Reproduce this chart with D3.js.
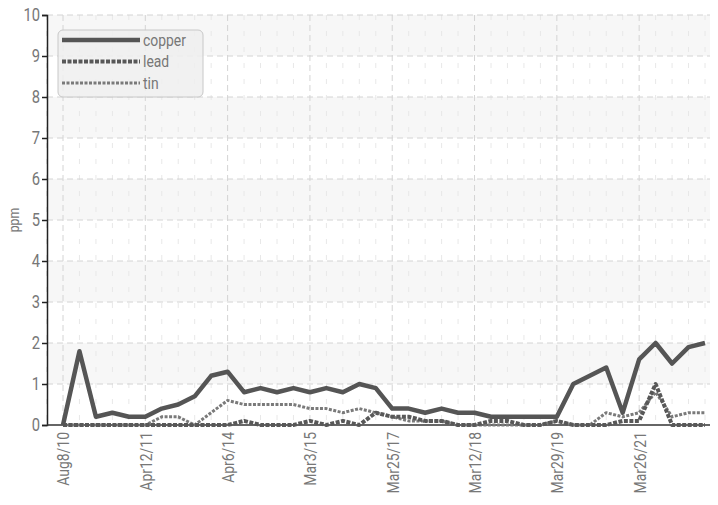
<!DOCTYPE html>
<html>
<head>
<meta charset="utf-8">
<script src="https://cdn.jsdelivr.net/npm/d3@7"></script>
<style>
  body { margin: 0; background: #fff; }
  text { font-family: "Roboto", sans-serif; fill: #777; }
</style>
</head>
<body>
<script>
var tickLabels = ["Aug8/10", "Apr12/11", "Apr6/14", "Mar3/15", "Mar25/17", "Mar12/18", "Mar29/19", "Mar26/21"];
var tickEvery = 5;

var copper = [0, 1.8, 0.2, 0.3, 0.2, 0.2, 0.4, 0.5, 0.7, 1.2,
              1.3, 0.8, 0.9, 0.8, 0.9, 0.8, 0.9, 0.8, 1.0, 0.9,
              0.4, 0.4, 0.3, 0.4, 0.3, 0.3, 0.2, 0.2, 0.2, 0.2,
              0.2, 1.0, 1.2, 1.4, 0.3, 1.6, 2.0, 1.5, 1.9, 2.0];
var lead   = [0, 0, 0, 0, 0, 0, 0, 0, 0, 0,
              0, 0.1, 0, 0, 0, 0.1, 0, 0.1, 0, 0.3,
              0.2, 0.2, 0.1, 0.1, 0, 0, 0.1, 0.1, 0, 0,
              0.1, 0, 0, 0, 0.1, 0.1, 1.0, 0, 0, 0];
var tin    = [0, 0, 0, 0, 0, 0, 0.2, 0.2, 0, 0.3,
              0.6, 0.5, 0.5, 0.5, 0.5, 0.4, 0.4, 0.3, 0.4, 0.3,
              0.2, 0.1, 0.1, 0.1, 0, 0, 0, 0, 0, 0,
              0.1, 0, 0, 0.3, 0.2, 0.3, 0.8, 0.2, 0.3, 0.3];

var series = [
  {name: "copper", values: copper, color: "#555", width: 4.5, dash: null},
  {name: "lead", values: lead, color: "#585858", width: 4, dash: "4,1.5"},
  {name: "tin", values: tin, color: "#7a7a7a", width: 3, dash: "3,1.5"}
];

var W = 718, H = 505;
var pLeft = 47, pRight = 710, pTop = 15, pBottom = 425;
var narrow = 0.82; // fake condensed font

var svg = d3.select("body").append("svg")
  .attr("width", W).attr("height", H);

var x = d3.scaleLinear().domain([0, copper.length - 1]).range([63, 705]);
var y = d3.scaleLinear().domain([0, 10]).range([pBottom, pTop]);

// alternating bands
var bands = d3.range(1, 10, 2);
svg.append("g").selectAll("rect").data(bands).enter().append("rect")
  .attr("x", pLeft).attr("width", pRight - pLeft)
  .attr("y", function(d) { return y(d + 1); })
  .attr("height", function(d) { return y(d) - y(d + 1); })
  .attr("fill", "#f7f7f7");

// minor vertical grid
var minor = d3.range(-1, copper.length).filter(function(i) { return i % tickEvery != 0; });
svg.append("g").selectAll("line").data(minor).enter().append("line")
  .attr("x1", function(d) { return x(d); }).attr("x2", function(d) { return x(d); })
  .attr("y1", pTop).attr("y2", pBottom)
  .attr("stroke", "#e8e8e8").attr("stroke-dasharray", "5,11");

// major vertical grid
svg.append("g").selectAll("line").data(tickLabels).enter().append("line")
  .attr("x1", function(d, i) { return x(i * tickEvery); })
  .attr("x2", function(d, i) { return x(i * tickEvery); })
  .attr("y1", pTop).attr("y2", pBottom)
  .attr("stroke", "#d4d4d4").attr("stroke-dasharray", "6,4");

// horizontal grid
svg.append("g").selectAll("line").data(d3.range(1, 11)).enter().append("line")
  .attr("x1", pLeft).attr("x2", pRight)
  .attr("y1", function(d) { return y(d); }).attr("y2", function(d) { return y(d); })
  .attr("stroke", "#d4d4d4").attr("stroke-dasharray", "6,4");

// y axis
var yAxis = svg.append("g")
  .attr("transform", "translate(" + pLeft + ",0)")
  .call(d3.axisLeft(y).ticks(10).tickSize(5).tickPadding(3));
yAxis.select(".domain").attr("stroke", "#222").attr("stroke-width", 1.5);
yAxis.selectAll(".tick line").attr("stroke", "#222").attr("stroke-width", 1.5);
yAxis.selectAll("text")
  .style("font-size", "18px").attr("fill", "#777")
  .attr("x", 0)
  .attr("transform", "translate(-7,0) scale(" + narrow + ",1)");

// x axis
var xAxis = svg.append("g")
  .attr("transform", "translate(0," + pBottom + ")")
  .call(d3.axisBottom(x)
    .tickValues(d3.range(0, tickLabels.length).map(function(i) { return i * tickEvery; }))
    .tickFormat(function(d) { return tickLabels[d / tickEvery]; })
    .tickSize(0).tickSizeOuter(0));
xAxis.select(".domain").attr("d", "M" + pLeft + ",0H" + pRight).attr("stroke", "#333").attr("stroke-width", 1.5);
xAxis.selectAll("text")
  .style("font-size", "17px")
  .style("text-anchor", "end")
  .attr("fill", "#777")
  .attr("transform", "translate(0,7) rotate(-90) scale(" + narrow + ",1)")
  .attr("x", 0).attr("y", 0).attr("dy", "0.35em");

// ppm label
svg.append("text")
  .attr("transform", "translate(19," + ((pTop + pBottom) / 2) + ") rotate(-90) scale(" + narrow + ",1)")
  .style("text-anchor", "middle")
  .style("font-size", "15px")
  .text("ppm");

// lines
var line = d3.line()
  .x(function(d, i) { return x(i); })
  .y(function(d) { return y(d); });

svg.append("g").selectAll("path").data(series.slice().reverse()).enter().append("path")
  .attr("d", function(d) { return line(d.values); })
  .attr("fill", "none")
  .attr("stroke", function(d) { return d.color; })
  .attr("stroke-width", function(d) { return d.width; })
  .attr("stroke-dasharray", function(d) { return d.dash; })
  .attr("stroke-linejoin", "round");

// legend
var lg = svg.append("g").attr("transform", "translate(58,30)");
lg.append("rect")
  .attr("width", 145).attr("height", 67).attr("rx", 5)
  .attr("fill", "#eeeeee").attr("fill-opacity", 0.85)
  .attr("stroke", "#c8c8c8");
var items = lg.selectAll("g.item").data(series).enter().append("g")
  .attr("transform", function(d, i) { return "translate(0," + (10 + i * 21.5) + ")"; });
items.append("line")
  .attr("x1", 4).attr("x2", 82)
  .attr("stroke", function(d) { return d.color; })
  .attr("stroke-width", function(d) { return d.width; })
  .attr("stroke-dasharray", function(d) { return d.dash; });
items.append("text")
  .attr("dy", "0.35em")
  .attr("transform", "translate(85,0) scale(" + narrow + ",1)")
  .style("font-size", "17px")
  .text(function(d) { return d.name; });
</script>
</body>
</html>
